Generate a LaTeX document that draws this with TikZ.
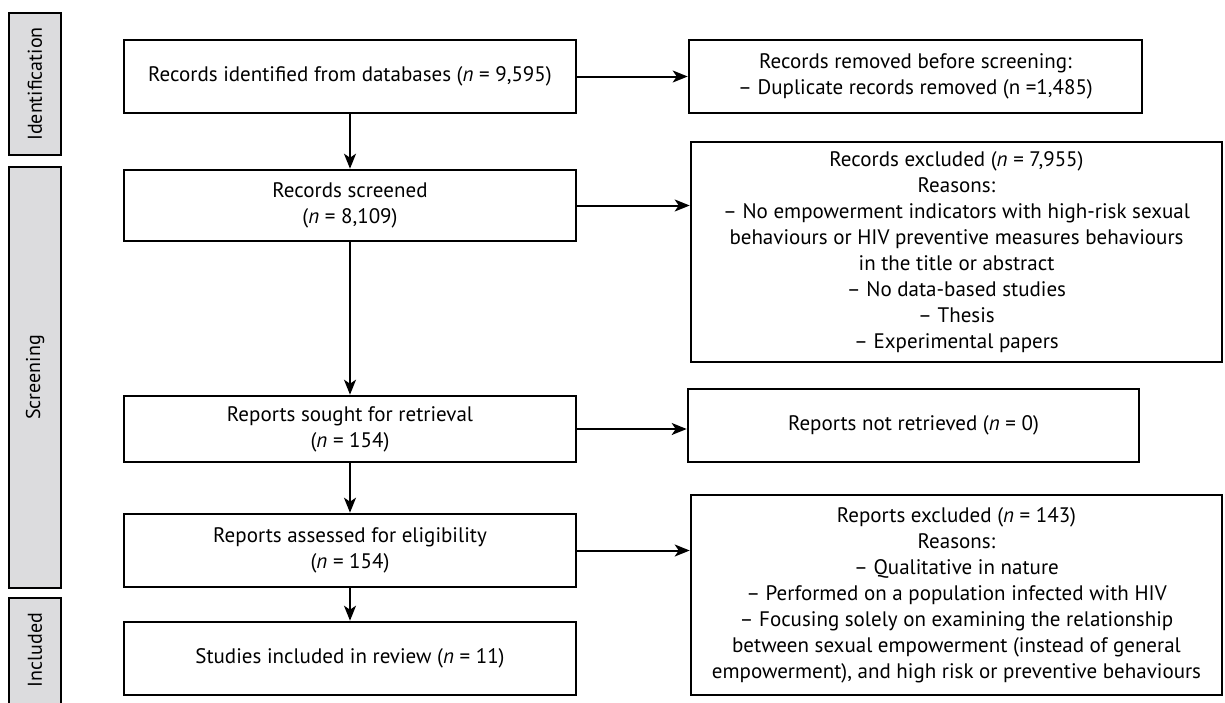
\documentclass[tikz,border=0pt]{standalone}
\usepackage{fontspec}
\setmainfont{PT Sans}
\usetikzlibrary{arrows.meta}
\definecolor{barfill}{HTML}{DCDCDE}
\tikzset{
  box/.style={draw=black, line width=2.6pt, rectangle, align=center, inner sep=0pt, font=\fontsize{21}{26}\selectfont},
  bar/.style={draw=black, line width=2.4pt, fill=barfill, rectangle, inner sep=0pt},
  barlabel/.style={rotate=90, inner sep=0pt, font=\fontsize{20}{26}\selectfont},
  arr/.style={line width=2pt, -{Stealth[length=15pt,width=12pt,inset=4pt]}}
}
\begin{document}
\begin{tikzpicture}[x=1pt,y=-1pt]
\useasboundingbox (0,0) rectangle (1225,702);
% side bars
\node[bar, minimum width=52pt, minimum height=142pt] (bid) at (35,84) {};
\node[barlabel] (tid) at (bid.center) {Identification};
\node[bar, minimum width=52pt, minimum height=421pt] (bscr) at (35,377.5) {};
\node[barlabel] (tscr) at (bscr.center) {Screening};
\node[bar, minimum width=52pt, minimum height=120pt] (binc) at (35,658) {};
\node[barlabel] (tinc) at (35,650) {Included};
% left column
\node[box, minimum width=452pt, minimum height=73pt] (ident) at (350,76.5) {Records identified from databases (\textit{n} = 9,595)};
\node[box, minimum width=452pt, minimum height=71pt] (scr) at (350,205.5) {Records screened\\(\textit{n} = 8,109)};
\node[box, minimum width=452pt, minimum height=66pt] (sought) at (350,429) {Reports sought for retrieval\\(\textit{n} = 154)};
\node[box, minimum width=452pt, minimum height=73pt] (assess) at (350,550.5) {Reports assessed for eligibility\\(\textit{n} = 154)};
\node[box, minimum width=452pt, minimum height=73pt] (incl) at (350,658.5) {Studies included in review (\textit{n} = 11)};
% right column
\node[box, minimum width=453pt, minimum height=73pt] (removed) at (915.5,76.5) {Records removed before screening:\\– Duplicate records removed (n =1,485)};
\node[box, minimum width=531pt, minimum height=220pt] (excl) at (956.5,252) {Records excluded (\textit{n} = 7,955)\\Reasons:\\– No empowerment indicators with high-risk sexual\\behaviours or HIV preventive measures behaviours\\in the title or abstract\\– No data-based studies\\– Thesis\\– Experimental papers};
\node[box, minimum width=451pt, minimum height=73pt] (notret) at (913.5,425.5) {Reports not retrieved (\textit{n} = 0)};
\node[box, minimum width=531pt, minimum height=200pt] (repexcl) at (956.5,595) {Reports excluded (\textit{n} = 143)\\Reasons:\\– Qualitative in nature\\– Performed on a population infected with HIV\\– Focusing solely on examining the relationship\\between sexual empowerment (instead of general\\empowerment), and high risk or preventive behaviours};
% arrows
\draw[arr] (ident) -- (scr);
\draw[arr] (scr) -- (sought);
\draw[arr] (sought) -- (assess);
\draw[arr] (assess) -- (incl);
\draw[arr] (ident.east) -- (ident.east -| removed.west);
\draw[arr] (scr.east) -- (scr.east -| excl.west);
\draw[arr] (sought.east) -- (sought.east -| notret.west);
\draw[arr] (assess.east) -- (assess.east -| repexcl.west);
\end{tikzpicture}
\end{document}
